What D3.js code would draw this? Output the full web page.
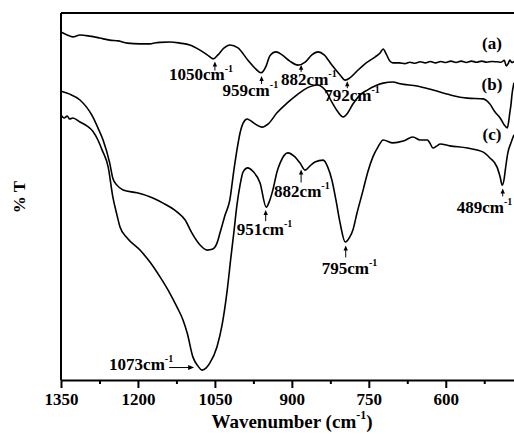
<!DOCTYPE html>
<html>
<head>
<meta charset="utf-8">
<script src="https://cdn.jsdelivr.net/npm/d3@7"></script>
<style>
  body { margin: 0; background: #fff; }
  svg { display: block; }
  text { font-family: "Liberation Serif", "Times New Roman", serif; font-weight: bold; fill: #000; }
</style>
</head>
<body>
<svg id="chart" width="514" height="434"></svg>
<script>
// FTIR spectra, transmittance (arbitrary %T) vs wavenumber (cm-1)
const wnA = [1350,1338,1327,1313,1294,1275,1255,1238,1221,1196,1177,1165,1157,1138,1118,1099,1079,1065,1053,1044,1032,1021,1005,986,970,960,950,943,931,919,904,888,874,861,849,837,822,806,796,787,775,758,738,728,722,716,709,703,690,680,670,660,650,640,630,620,610,600,590,580,570,560,550,540,530,520,510,500,492,486,482,478,475,471,467];
const tA  = [94.8,94.0,93.5,94.0,93.7,93.2,92.6,92.4,91.8,91.6,91.6,91.9,92.0,92.1,91.8,91.3,89.9,88.6,87.5,88.6,90.5,91.3,90.5,87.2,84.7,83.7,85.6,88.3,89.4,88.6,86.9,85.8,86.6,88.6,89.4,88.6,85.8,83.1,81.7,82.3,83.9,86.1,88.0,89.1,90.2,88.8,86.9,86.4,86.4,86.2,86.6,86.3,86.7,86.4,86.8,86.4,86.8,86.5,86.9,86.5,86.9,86.5,86.9,86.6,86.9,86.6,86.8,86.7,86.6,87.1,85.6,86.3,87.2,86.5,86.8];

const wnB = [1350,1333,1313,1288,1278,1268,1255,1249,1241,1229,1202,1171,1151,1124,1108,1095,1079,1065,1054,1046,1040,1030,1021,1013,1007,1001,995,987,982,972,958,946,929,909,890,870,851,835,822,810,800,791,781,767,753,738,722,703,689,656,625,592,558,527,514,504,494,486,480,477,475,473,471,467];
const tB  = [78.7,77.9,76.3,71.7,68.7,65.4,59.1,55.0,53.1,51.8,51.0,49.6,48.2,45.8,43.6,40.1,36.8,35.4,35.7,37.3,40.1,45.0,49.0,57.2,62.7,67.3,70.0,71.1,70.8,69.8,68.9,69.8,72.8,75.5,77.7,79.6,80.4,79.0,75.7,73.0,71.7,72.8,75.2,77.7,79.0,80.1,80.9,81.2,80.7,80.1,79.0,77.7,76.8,76.6,75.2,73.0,71.4,69.5,68.7,70.8,73.0,74.9,77.7,81.0];

const wnC = [1350,1344,1338,1333,1327,1313,1299,1288,1278,1270,1258,1249,1241,1235,1221,1196,1177,1157,1138,1124,1112,1104,1093,1083,1075,1067,1060,1046,1036,1026,1019,1013,1007,1001,995,986,976,962,950,943,937,929,923,908,894,884,874,865,855,839,830,822,814,806,796,787,781,773,761,752,742,732,722,703,683,664,650,636,631,625,617,611,592,558,527,514,500,494,490,486,484,479,473,467];
const tC  = [72.2,71.4,71.9,71.1,71.4,70.3,69.2,67.8,65.4,62.7,58.0,49.9,45.0,41.7,38.7,35.4,32.2,28.1,23.7,19.9,16.3,12.8,6.3,3.8,2.7,3.3,4.6,9.0,15.0,24.5,33.2,40.3,47.7,53.1,56.7,57.8,56.9,53.7,47.1,49.0,51.8,56.7,59.1,61.9,60.8,59.1,57.2,58.3,59.4,59.9,58.0,54.5,49.0,42.8,37.6,39.0,40.9,45.5,51.8,56.7,60.8,63.5,65.4,64.6,65.1,66.2,65.4,65.4,64.6,63.2,63.8,64.3,63.8,63.2,62.1,60.5,58.0,55.3,53.1,55.0,57.2,61.9,64.6,66.8];

const seriesNames = ["(a)", "(b)", "(c)"];
const majorTicks = [1350, 1200, 1050, 900, 750, 600];
const minorTicks = [1275, 1125, 975, 825, 675, 525];

// band assignments marked on the spectra
const peakSeries = ["a", "a", "a", "a", "c", "c", "c", "c", "c"];
const peakWn     = [1050, 959, 882, 792, 1073, 951, 882, 795, 489];

const svg = d3.select("#chart");
const x = d3.scaleLinear().domain([1350, 467]).range([61, 514]);
const y = d3.scaleLinear().domain([0, 100]).range([380, 13]);

const series = {
  a: { wn: wnA, t: tA },
  b: { wn: wnB, t: tB },
  c: { wn: wnC, t: tC }
};

function valueAt(s, w) {
  for (let i = 0; i < s.wn.length - 1; i++) {
    const w0 = s.wn[i], w1 = s.wn[i + 1];
    if (w <= w0 && w >= w1) {
      const f = (w0 - w) / (w0 - w1);
      return s.t[i] + f * (s.t[i + 1] - s.t[i]);
    }
  }
  return s.t[s.t.length - 1];
}

// frame: top rule and left axis line
svg.append("line").attr("x1", 61).attr("x2", 514).attr("y1", 13).attr("y2", 13)
  .attr("stroke", "#000").attr("stroke-width", 2);
svg.append("line").attr("x1", 61).attr("x2", 61).attr("y1", 13).attr("y2", 380)
  .attr("stroke", "#000").attr("stroke-width", 2);

// bottom axis
const axisG = svg.append("g").attr("transform", "translate(0,380)")
  .call(d3.axisBottom(x).tickValues(majorTicks).tickSize(8).tickSizeOuter(0).tickPadding(5).tickFormat(d3.format("d")));
axisG.attr("font-family", null);
axisG.select(".domain").attr("stroke-width", 2);
axisG.selectAll(".tick line").attr("stroke-width", 2);
axisG.selectAll(".tick text").attr("font-size", 17).attr("fill", "#000");

svg.append("g").attr("transform", "translate(0,380)")
  .call(d3.axisBottom(x).tickValues(minorTicks).tickSize(4).tickSizeOuter(0).tickFormat(""))
  .call(g => g.select(".domain").remove())
  .call(g => g.selectAll(".tick line").attr("stroke-width", 2));

// axis titles
const xt = svg.append("text").attr("x", 292).attr("y", 428).attr("text-anchor", "middle").attr("font-size", 19);
xt.append("tspan").text("Wavenumber (cm");
xt.append("tspan").attr("font-size", 12).attr("dy", -9).text("-1");
xt.append("tspan").attr("dy", 9).text(")");

svg.append("text").attr("transform", "translate(25,197) rotate(-90)")
  .attr("text-anchor", "middle").attr("font-size", 17).text("% T");

// spectra
const line = d3.line().x(d => x(d[0])).y(d => y(d[1])).curve(d3.curveMonotoneX);
["a", "b", "c"].forEach(k => {
  const s = series[k];
  svg.append("path")
    .datum(s.wn.map((w, i) => [w, s.t[i]]))
    .attr("fill", "none").attr("stroke", "#000").attr("stroke-width", 1.6)
    .attr("stroke-linejoin", "round")
    .attr("d", line);
});

// curve labels near the right edge
const nameY = [49, 90, 140];
seriesNames.forEach((n, i) => {
  svg.append("text").attr("x", 492).attr("y", nameY[i]).attr("text-anchor", "middle")
    .attr("font-size", 17).text(n);
});

// band annotations: vertical arrows pointing up to the band, text below
const annLayout = [
  { dx: -46, gap: 4, len: 9, base: 22 },
  { dx: -39, gap: 4, len: 8, base: 24 },
  { dx: -20, gap: 1, len: 7, base: 21 },
  { dx: -23, gap: 2, len: 7, base: 22 },
  null,
  { dx: -29, gap: 5, len: 11, base: 30 },
  { dx: -27, gap: 5, len: 13, base: 33 },
  { dx: -24, gap: 4, len: 12, base: 33 },
  { dx: -46, gap: 5, len: 8, base: 30 }
];

function label(xStart, yBase, wn) {
  const t = svg.append("text").attr("x", xStart).attr("y", yBase).attr("font-size", 17);
  t.append("tspan").text(wn + "cm");
  t.append("tspan").attr("font-size", 10).attr("dy", -8).text("-1");
}

peakWn.forEach((w, i) => {
  const s = series[peakSeries[i]];
  const px = x(w), py = y(valueAt(s, w));
  const L = annLayout[i];
  if (!L) {
    // horizontal arrow towards the band minimum
    const tipX = px - 9, tailX = tipX - 25, ay = py - 2;
    svg.append("line").attr("x1", tailX).attr("x2", tipX - 4).attr("y1", ay).attr("y2", ay)
      .attr("stroke", "#000").attr("stroke-width", 1);
    svg.append("path").attr("d", `M${tipX},${ay} L${tipX - 6},${ay - 2.5} L${tipX - 6},${ay + 2.5} Z`).attr("fill", "#000");
    label(tailX - 60, ay + 2, w);
    return;
  }
  const tipY = py + L.gap, tailY = tipY + L.len;
  svg.append("line").attr("x1", px).attr("x2", px).attr("y1", tipY + 3).attr("y2", tailY)
    .attr("stroke", "#000").attr("stroke-width", 1);
  svg.append("path").attr("d", `M${px},${tipY} L${px - 2.2},${tipY + 5} L${px + 2.2},${tipY + 5} Z`).attr("fill", "#000");
  label(px + L.dx, py + L.base, w);
});
</script>
</body>
</html>
